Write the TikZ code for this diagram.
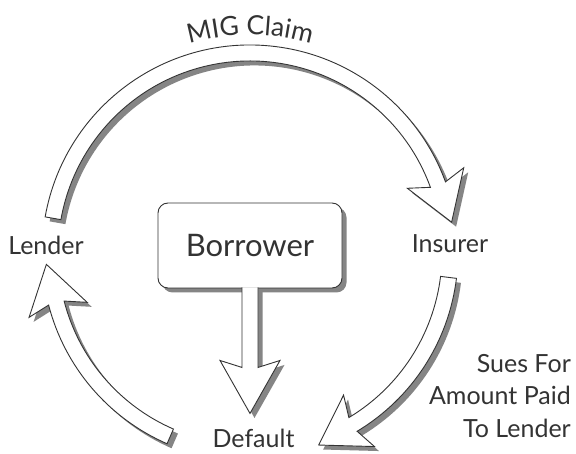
\documentclass[tikz,border=0pt]{standalone}
\usepackage{fontspec}
\setmainfont{Lato}
\usetikzlibrary{calc,shadows,decorations.text}
\definecolor{ink}{HTML}{333333}
\definecolor{shade}{HTML}{858585}
\tikzset{
  shape3d/.style={fill=white, draw=ink, line width=0.9pt, line join=miter,
    drop shadow={shadow xshift=4.5pt, shadow yshift=-4.5pt, fill=shade, opacity=1, draw=none}},
  lbl/.style={text=ink, font=\fontsize{25}{32.5}\selectfont, inner sep=0pt},
  boxnode/.style={shape3d, rounded corners=10pt, minimum width=184pt, minimum height=85pt,
    text=ink, font=\fontsize{31}{36}\selectfont, inner sep=0pt},
}
\newcommand\ringarrow[2]{%
  \path[shape3d] ($(C)+(#1:208)$) arc[start angle=#1, end angle=#2, radius=208]
    -- ($(C)+(#2:230)+(#2+90:7)$)
    -- ($(C)+(#2:200)+(#2-90:40)$)
    -- ($(C)+(#2:170)+(#2+90:7)$)
    -- ($(C)+(#2:192)$)
    arc[start angle=#2, end angle=#1, radius=192] -- cycle;}
\begin{document}
\begin{tikzpicture}[x=1pt,y=1pt]
\useasboundingbox (0,0) rectangle (576,453);
\fill[white] (0,0) rectangle (576,453);
\coordinate (C) at (250,200);
% ring arrows
\ringarrow{170}{20}
\ringarrow{-7}{-59}
\ringarrow{246.5}{194.5}
% borrower box and its arrow down to default
\node[boxnode] (borrower) at (250,207.5) {Borrower};
\node[lbl] (default) at (253.5,15) {Default};
\path[shape3d] ($(borrower.south)+(-8,1)$) -- ($(borrower.south)+(-8,-79)$)
  -- ($(borrower.south)+(-30,-72)$) -- ($(borrower.south)+(0,-125)$)
  -- ($(borrower.south)+(30,-72)$) -- ($(borrower.south)+(8,-79)$)
  -- ($(borrower.south)+(8,1)$);
% labels
\node[lbl] (lender) at (46,208) {Lender};
\node[lbl] (insurer) at (450,209) {Insurer};
\node[lbl, align=right, anchor=north east] (sues) at (571,99) {Sues For\\Amount Paid\\To Lender};
\path[decorate, decoration={text along path, text={|\fontsize{26.5}{30}\selectfont|MIG Claim},
  text align=center, text color=ink}] ($(C)+(150:218)$) arc[start angle=150, end angle=30, radius=218];
\end{tikzpicture}
\end{document}
